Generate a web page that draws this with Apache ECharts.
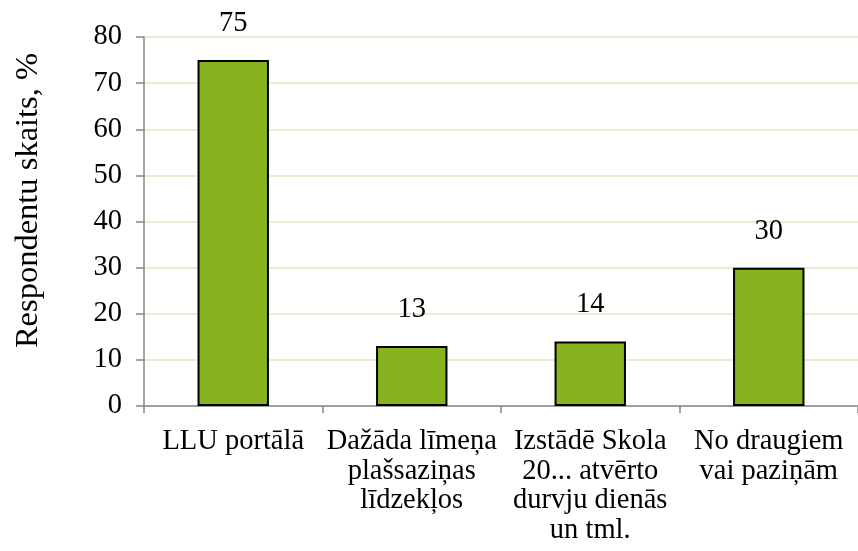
<!DOCTYPE html>
<html>
<head>
<meta charset="utf-8">
<script src="https://cdn.jsdelivr.net/npm/echarts@6/dist/echarts.min.js"></script>
<style>
  html, body { margin: 0; padding: 0; background: #fff; }
  #main { width: 858px; height: 551px; }
</style>
</head>
<body>
<div id="main"></div>
<script>
// dati no attēla
var categories = [
  'LLU portālā',
  'Dažāda līmeņa\nplašsaziņas\nlīdzekļos',
  'Izstādē Skola\n20... atvērto\ndurvju dienās\nun tml.',
  'No draugiem\nvai paziņām'
]
var values = [75, 13, 14, 30]
var yTicks = { min: 0, max: 80, interval: 10 }
var yName = 'Respondentu skaits, %'

var font = '"Liberation Serif", "Times New Roman", serif'
var myChart = echarts.init(document.getElementById('main'))

myChart.setOption({
  animation: false,
  grid: {
    left: 144,
    right: -7,
    top: 37,
    bottom: 145
  },
  xAxis: {
    type: 'category',
    data: categories,
    axisLine: { lineStyle: { color: '#878787', width: 1.5 } },
    axisTick: { show: true, length: 7, lineStyle: { color: '#878787', width: 1.5 } },
    axisLabel: {
      color: '#000',
      fontFamily: font,
      fontSize: 28.5,
      lineHeight: 29.5,
      margin: 21,
      interval: 0
    }
  },
  yAxis: {
    type: 'value',
    min: yTicks.min,
    max: yTicks.max,
    interval: yTicks.interval,
    name: yName,
    nameLocation: 'middle',
    nameGap: 99,
    nameTextStyle: {
      color: '#000',
      fontFamily: font,
      fontSize: 32.5,
      padding: [0, 0, 0, 42]
    },
    axisLine: { show: true, lineStyle: { color: '#878787', width: 1.5 } },
    axisTick: { show: true, length: 8, lineStyle: { color: '#878787', width: 1.5 } },
    axisLabel: {
      color: '#000',
      fontFamily: font,
      fontSize: 28.5,
      margin: 22
    },
    splitLine: { lineStyle: { color: '#dce7c6', width: 1.5 } }
  },
  series: [
    {
      type: 'bar',
      data: values,
      barWidth: '40%',
      itemStyle: {
        color: '#86b31e',
        borderColor: '#000',
        borderWidth: 2
      },
      label: {
        show: true,
        position: 'top',
        distance: 22,
        color: '#000',
        fontFamily: font,
        fontSize: 28.5
      }
    }
  ]
})
</script>
</body>
</html>
